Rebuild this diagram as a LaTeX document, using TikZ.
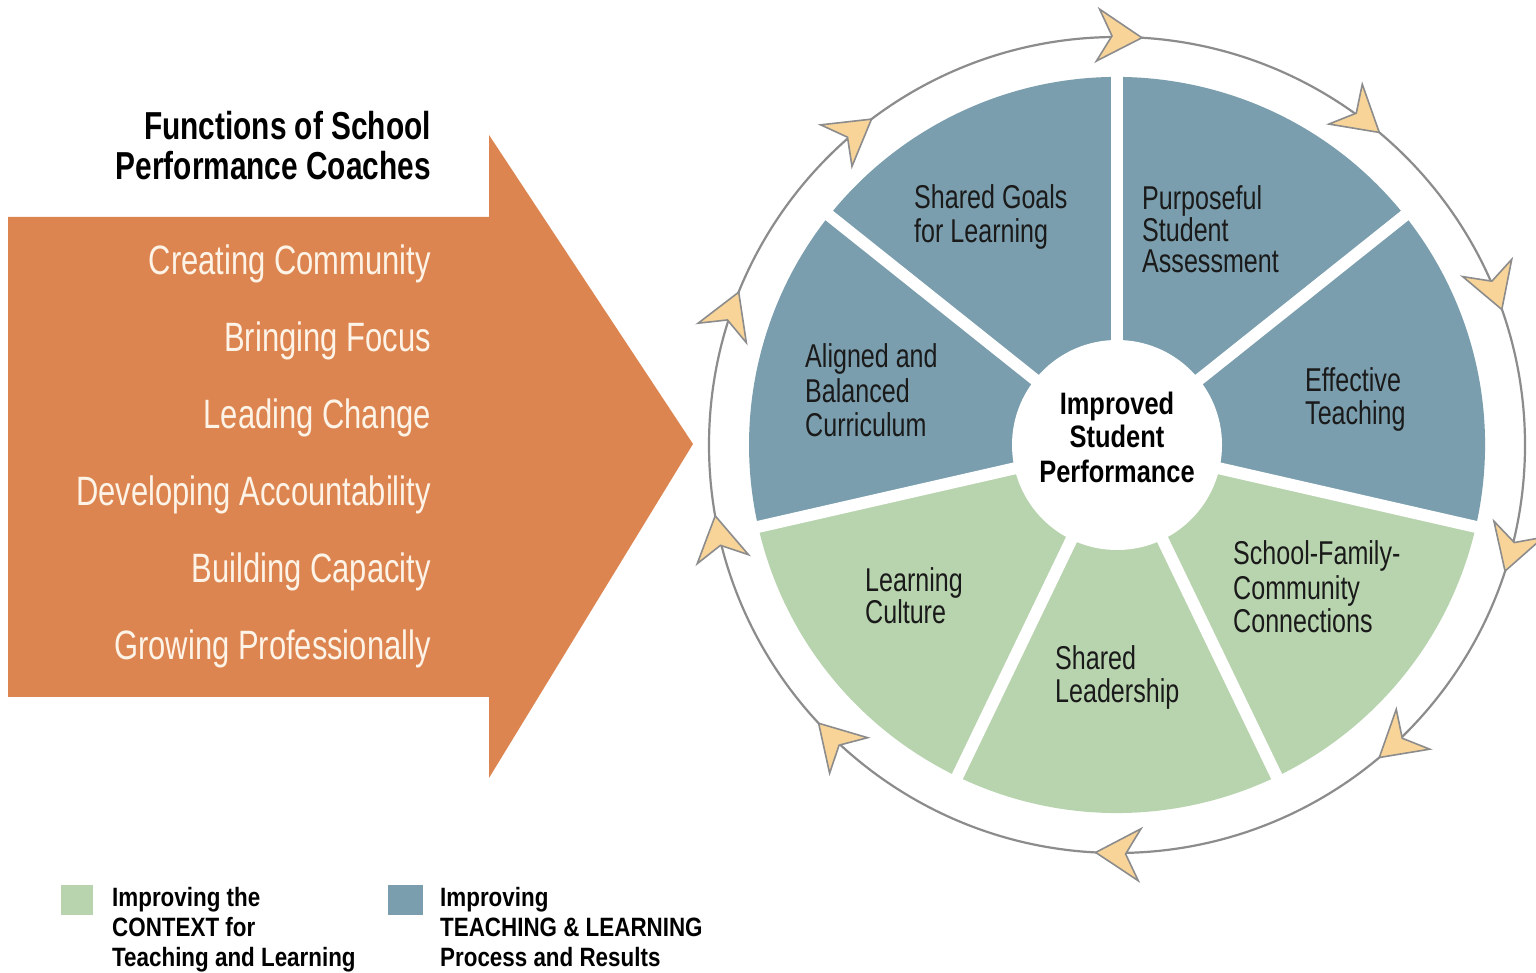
\documentclass[tikz,border=0pt]{standalone}
\usepackage{fontspec}
\setmainfont{Liberation Sans}
\newfontfamily\orfont[FakeStretch=0.755]{Liberation Sans}
\newfontfamily\whfont[FakeStretch=0.76]{Liberation Sans}
\newfontfamily\tifont[FakeStretch=0.765]{Liberation Sans}
\newfontfamily\cefont[FakeStretch=0.82]{Liberation Sans}
\newfontfamily\lgfont[FakeStretch=0.845]{Liberation Sans}
\definecolor{orangec}{HTML}{DD8550}
\definecolor{orwhite}{HTML}{FDF3E7}
\definecolor{bluec}{HTML}{7A9EAD}
\definecolor{greenc}{HTML}{B8D4AE}
\definecolor{arrowfill}{HTML}{F8D499}
\definecolor{ringgray}{HTML}{8C8C8C}
\definecolor{darktext}{HTML}{1A1A1A}
\tikzset{
  orlabel/.style={anchor=base east, inner sep=0pt, text=orwhite, font=\orfont\fontsize{41}{41}\selectfont},
  titlelabel/.style={anchor=base east, inner sep=0pt, text=black, font=\tifont\bfseries\fontsize{39}{39}\selectfont},
  wlabel/.style={anchor=base west, inner sep=0pt, text=darktext, font=\whfont\fontsize{33}{33}\selectfont},
  clabel/.style={anchor=base, inner sep=0pt, text=black, font=\cefont\bfseries\fontsize{31}{31}\selectfont},
  leglabel/.style={anchor=base west, inner sep=0pt, text=black, font=\lgfont\bfseries\fontsize{26.5}{26.5}\selectfont},
  ringarrow/.style={fill=arrowfill, draw=ringgray, line width=1.6pt, line join=miter},
  sepline/.style={white, line width=12pt},
}
\begin{document}
\begin{tikzpicture}[x=1pt,y=1pt]
\useasboundingbox (0,0) rectangle (1536,973);
\fill[white] (0,0) rectangle (1536,973);

% orange arrow
\fill[orangec] (8,756) -- (489,756) -- (489,838) -- (693,529) -- (489,195) -- (489,276) -- (8,276) -- cycle;

% title
\node[titlelabel] (t1) at (431,833) {Functions of School};
\node[titlelabel] (t2) at (431,793) {Performance Coaches};

% functions
\node[orlabel] (f1) at (431,698) {Creating Community};
\node[orlabel] (f2) at (431,621) {Bringing Focus};
\node[orlabel] (f3) at (431,544) {Leading Change};
\node[orlabel] (f4) at (431,467) {Developing Accountability};
\node[orlabel] (f5) at (431,390) {Building Capacity};
\node[orlabel] (f6) at (431,313) {Growing Professionally};

% wheel
\begin{scope}[shift={(1117,528)}]
  \fill[bluec] (0,0) -- (-12.857:368) arc[start angle=-12.857, end angle=192.857, radius=368] -- cycle;
  \fill[greenc] (0,0) -- (192.857:368) arc[start angle=192.857, end angle=347.143, radius=368] -- cycle;
  \foreach \a in {90,38.571,-12.857,-64.286,-115.714,-167.143,141.429}
    \draw[sepline] (0,0) -- (\a:380);
  \fill[white] (0,0) circle[radius=105];
  \draw[ringgray, line width=2.2pt] (0,0) circle[radius=408];
  \foreach \a in {86.5,50,19.4,-18,-50,-93,-137,-170,158,127}{
    \begin{scope}[rotate=\a]
      \filldraw[ringarrow] (408,0) -- (434,44) -- (408,30) -- (382,44) -- cycle;
    \end{scope}
  }
\end{scope}

% wheel labels
\node[wlabel] (sg1) at (914,764) {Shared Goals};
\node[wlabel] (sg2) at (914,730) {for Learning};
\node[wlabel] (pa1) at (1142,763) {Purposeful};
\node[wlabel] (pa2) at (1142,731) {Student};
\node[wlabel] (pa3) at (1142,700) {Assessment};
\node[wlabel] (et1) at (1305,581) {Effective};
\node[wlabel] (et2) at (1305,548) {Teaching};
\node[wlabel] (sf1) at (1233,408) {School-Family-};
\node[wlabel] (sf2) at (1233,373) {Community};
\node[wlabel] (sf3) at (1233,340) {Connections};
\node[wlabel] (sl1) at (1055,303) {Shared};
\node[wlabel] (sl2) at (1055,270) {Leadership};
\node[wlabel] (lc1) at (865,381) {Learning};
\node[wlabel] (lc2) at (865,349) {Culture};
\node[wlabel] (ab1) at (805,605) {Aligned and};
\node[wlabel] (ab2) at (805,570) {Balanced};
\node[wlabel] (ab3) at (805,536) {Curriculum};

% center
\node[clabel] (c1) at (1117,558) {Improved};
\node[clabel] (c2) at (1117,525) {Student};
\node[clabel] (c3) at (1117,490) {Performance};

% legend
\fill[greenc] (61,58) rectangle (93,88);
\fill[bluec] (388,58) rectangle (423,88);
\node[leglabel] (g1) at (112,66) {Improving the};
\node[leglabel] (g2) at (112,36) {CONTEXT for};
\node[leglabel] (g3) at (112,6) {Teaching and Learning};
\node[leglabel] (b1) at (440,66) {Improving};
\node[leglabel] (b2) at (440,36) {TEACHING \& LEARNING};
\node[leglabel] (b3) at (440,6) {Process and Results};
\end{tikzpicture}
\end{document}
